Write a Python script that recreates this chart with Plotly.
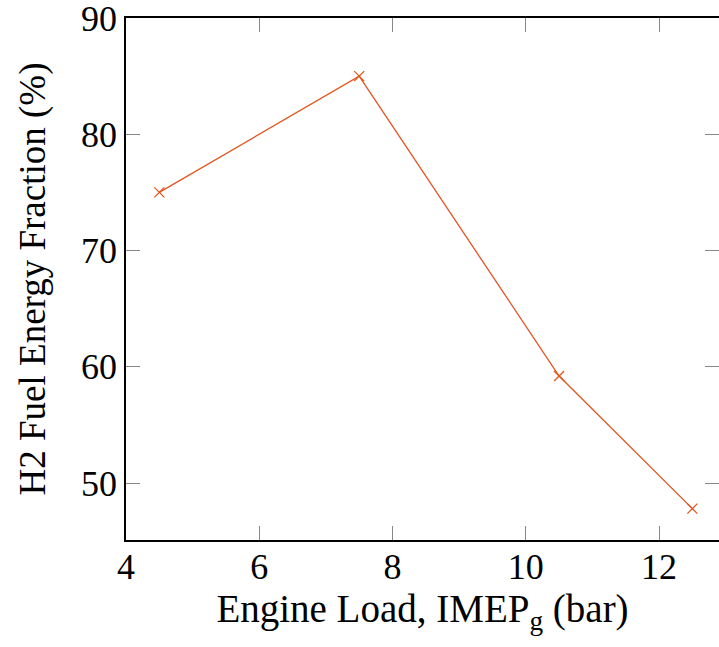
import plotly.graph_objects as go

engine_load = [4.5, 7.5, 10.5, 12.5]
h2_fraction = [75.0, 85.0, 59.2, 47.8]
x_ticks = [4, 6, 8, 10, 12]
y_ticks = [50, 60, 70, 80, 90]

FONT = "Liberation Serif"
COLOR = "#E2561E"

fig = go.Figure()
fig.add_trace(go.Scatter(
    x=engine_load, y=h2_fraction, mode="lines+markers",
    line=dict(color=COLOR, width=1.3),
    marker=dict(symbol="x-thin", size=10, line=dict(color=COLOR, width=1.3)),
    showlegend=False,
))
# invisible trace for right-side mirror ticks
fig.add_trace(go.Scatter(x=engine_load, y=h2_fraction, yaxis="y2",
                         mode="markers", marker=dict(opacity=0),
                         showlegend=False, hoverinfo="skip"))

fig.update_layout(
    width=719, height=647,
    margin=dict(l=126, r=0, t=18, b=107, autoexpand=False),
    plot_bgcolor="white", paper_bgcolor="white",
    font=dict(family=FONT, size=36, color="black"),
    xaxis=dict(
        range=[4, 12.9], tickvals=x_ticks, ticks="inside", ticklen=14,
        tickcolor="#888", tickwidth=1, showline=True, linecolor="black",
        linewidth=1.5, mirror="ticks", showgrid=False, zeroline=False,
        automargin=False, tickfont=dict(size=36), ticklabeloverflow="allow",
        ticklabelstandoff=-6,
        title=dict(text="Engine Load, IMEP<sub>g</sub> (bar)", standoff=4,
                   font=dict(size=39)),
    ),
    yaxis=dict(
        range=[45.1, 90], tickvals=y_ticks, ticks="inside", ticklen=14,
        tickcolor="#888", tickwidth=1, showline=True, linecolor="black",
        linewidth=1.5, mirror=False, showgrid=False, zeroline=False,
        automargin=False, tickfont=dict(size=36), ticklabeloverflow="allow",
        title=dict(text="H2 Fuel Energy Fraction (%)", standoff=24,
                   font=dict(size=37)),
    ),
    yaxis2=dict(
        range=[45.1, 90], tickvals=y_ticks, ticks="inside", ticklen=14,
        tickcolor="#888", tickwidth=1, showline=False, overlaying="y",
        side="right", showticklabels=False, showgrid=False, zeroline=False,
        automargin=False,
    ),
)

fig.write_html("out.html", config={"displayModeBar": False},
               post_script="document.body.style.margin='0';"
                           "document.body.style.overflow='hidden';")
